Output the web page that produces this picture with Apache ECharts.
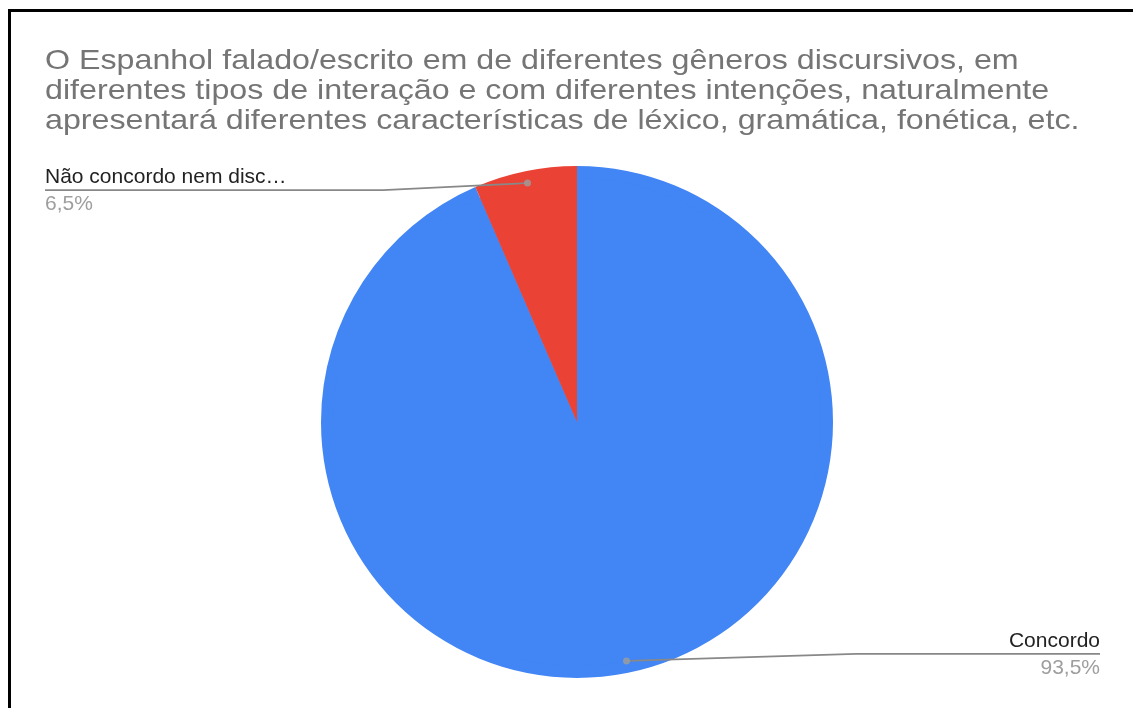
<!DOCTYPE html>
<html>
<head>
<meta charset="utf-8">
<script src="https://cdn.jsdelivr.net/npm/echarts@6/dist/echarts.min.js"></script>
<style>
  html, body { margin: 0; padding: 0; background: #fff; }
  #chart { width: 1133px; height: 708px; }
</style>
</head>
<body>
<div id="chart"></div>
<script>
// Survey answers and their shares
const categories = ['Concordo', 'Não concordo nem discordo'];
const labelNames = ['Concordo', 'Não concordo nem disc…'];
const values = [93.5, 6.5];
const sliceColors = ['#4285f4', '#ea4335'];

const titleText = 'O Espanhol falado/escrito em de diferentes gêneros discursivos, em\n' +
  'diferentes tipos de interação e com diferentes intenções, naturalmente\n' +
  'apresentará diferentes características de léxico, gramática, fonética, etc.';

const FONT = '"Liberation Sans", Arial, Helvetica, sans-serif';
const CX = 577, CY = 422, R = 256;     // pie centre and radius (px)
const DOT = 0.953;                      // label anchor dots, fraction of radius
const BOX_LEFT = 12;                    // left offset of the pie layout box
const LEFT_EDGE = 45, RIGHT_EDGE = 1100;

const total = values.reduce((a, b) => a + b, 0);
const pieData = categories.map((c, i) => ({
  name: c, value: values[i], itemStyle: { color: sliceColors[i] }
}));
// mid-angle of each slice, in percent of the full turn, for the anchor dots
let acc = 0;
const dotData = values.map(v => { const m = acc + v / 2; acc += v; return [DOT, m / total * 100]; });

const fmtPct = p => p.toFixed(1).replace('.', ',') + '%';

const chart = echarts.init(document.getElementById('chart'), null, { renderer: 'canvas' });
chart.setOption({
  backgroundColor: '#ffffff',
  animation: false,
  graphic: [
    {
      // chart title, slightly wide-set
      type: 'text', silent: true, z: 10,
      x: LEFT_EDGE, y: 46, scaleX: 1.15,
      style: {
        text: titleText, fontFamily: FONT, fontSize: 28, fill: '#757575',
        lineHeight: 30, verticalAlign: 'top', align: 'left'
      }
    },
    {
      type: 'rect', silent: true, z: 100,
      shape: { x: 9.5, y: 10.5, width: 1400, height: 1000 },
      style: { fill: 'none', stroke: '#000', lineWidth: 3 }
    }
  ],
  polar: { center: [CX, CY], radius: R },
  angleAxis: { type: 'value', min: 0, max: 100, startAngle: 90, clockwise: true, show: false },
  radiusAxis: { type: 'value', min: 0, max: 1, show: false },
  series: [
    {
      type: 'pie',
      left: BOX_LEFT, right: 0, top: 0, bottom: 0,
      center: [CX - BOX_LEFT, CY],
      radius: R,
      startAngle: 90,
      clockwise: true,
      silent: true,
      label: { show: false },
      labelLine: { show: false },
      data: pieData
    },
    {
      // transparent twin used to place the labels and their leader lines
      type: 'pie',
      z: 3,
      left: BOX_LEFT, right: 0, top: 0, bottom: 0,
      center: [CX - BOX_LEFT, CY],
      radius: R * DOT,
      startAngle: 90,
      clockwise: true,
      silent: true,
      avoidLabelOverlap: false,
      itemStyle: { color: 'rgba(0,0,0,0)' },
      emphasis: { disabled: true },
      label: {
        show: true,
        position: 'outside',
        fontFamily: FONT,
        formatter: p => '{n|' + labelNames[p.dataIndex] + '}\n{p|' + fmtPct(p.percent) + '}',
        rich: {
          n: { fontFamily: FONT, fontSize: 21, color: '#222222', lineHeight: 27 },
          p: { fontFamily: FONT, fontSize: 21, color: '#9e9e9e', lineHeight: 27 }
        }
      },
      labelLine: { show: true, length: 10, length2: 20, lineStyle: { color: '#888888', width: 1.6 } },
      labelLayout: function (params) {
        const start = params.labelLinePoints[0];
        const isLeft = start[0] < CX;
        const w = params.labelRect.width;
        const underY = isLeft ? start[1] + 7 : start[1] - 7;
        const farX = isLeft ? LEFT_EDGE : RIGHT_EDGE;
        const textEnd = isLeft ? LEFT_EDGE + w : RIGHT_EDGE - w;
        const bendX = textEnd + (start[0] - textEnd) * 0.4;
        return {
          x: farX,
          y: underY - 26,
          align: isLeft ? 'left' : 'right',
          verticalAlign: 'top',
          labelLinePoints: [start, [bendX, underY], [farX, underY]]
        };
      },
      data: pieData
    },
    {
      type: 'scatter',
      coordinateSystem: 'polar',
      symbolSize: 7,
      silent: true,
      z: 4,
      itemStyle: { color: '#9e9e9e' },
      data: dotData
    }
  ]
});
</script>
</body>
</html>
